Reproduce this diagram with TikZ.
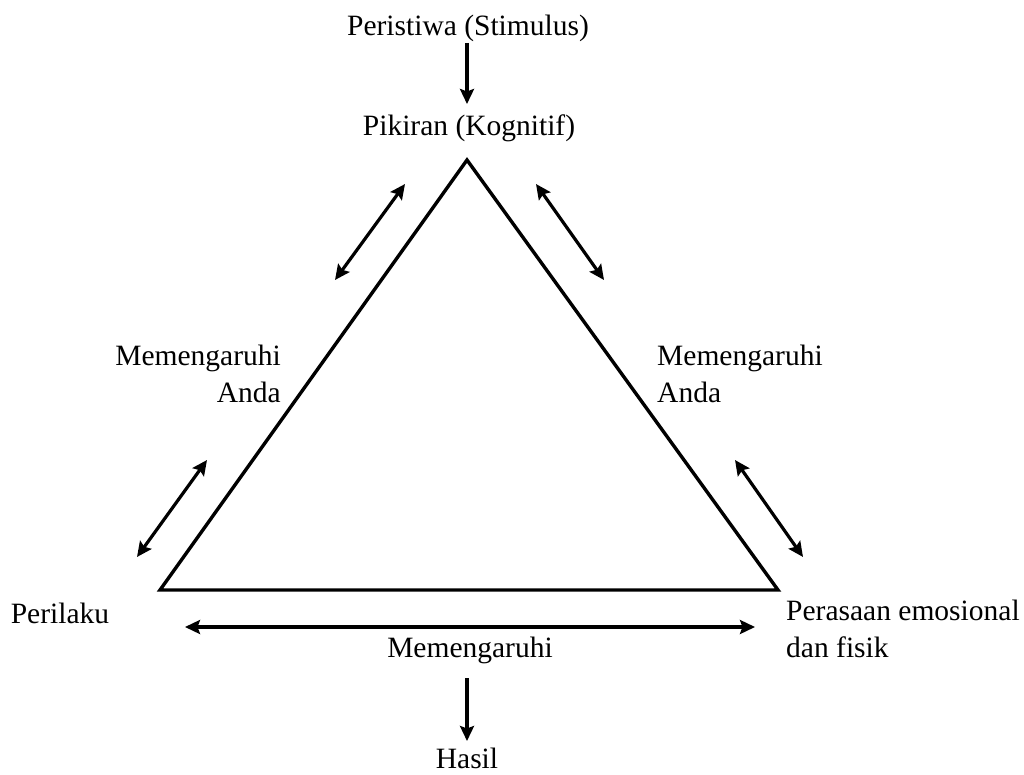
\documentclass[tikz,border=0pt]{standalone}
\usepackage{fontspec}
\setmainfont{Liberation Serif}
\usetikzlibrary{arrows.meta}
\begin{document}
\begin{tikzpicture}[x=1pt,y=-1pt,
  lbl/.style={inner sep=0pt,font=\fontsize{29.5}{37}\selectfont},
  tri/.style={line width=3.4pt,line join=miter},
  tip/.style={},
  arr/.style={line width=3.2pt,{Stealth[length=15pt,width=14pt,inset=2.5pt]}-{Stealth[length=15pt,width=14pt,inset=2.5pt]}},
  sarr/.style={line width=3.2pt,-{Stealth[length=15pt,width=14pt,inset=2.5pt]}}]
\useasboundingbox (0,0) rectangle (1024,775);
% triangle
\coordinate (A) at (467,160);
\coordinate (B) at (160,590);
\coordinate (C) at (778,590);
\draw[tri] (A) -- (B) -- (C) -- cycle;
% labels
\node[lbl] (stim) at (468,28) {Peristiwa (Stimulus)};
\node[lbl] (pik) at (469,128) {Pikiran (Kognitif)};
\node[lbl,align=right,anchor=east] (ml) at (281,374) {Memengaruhi\\Anda};
\node[lbl,align=left,anchor=west] (mr) at (657,374) {Memengaruhi\\Anda};
\node[lbl] (per) at (60,613) {Perilaku};
\node[lbl,align=left,anchor=west] (pe) at (786,629) {Perasaan emosional\\dan fisik};
\node[lbl] (mb) at (470,650) {Memengaruhi};
\node[lbl] (has) at (467,758) {Hasil};
% arrows
\coordinate (s1) at (467,43); \coordinate (s2) at (467,104);
\draw[sarr] (s1) -- (s2);
\coordinate (l1a) at (335,280); \coordinate (l1b) at (405,184);
\draw[arr] (l1a) -- (l1b);
\coordinate (r1a) at (536,184); \coordinate (r1b) at (604,280);
\draw[arr] (r1a) -- (r1b);
\coordinate (l2a) at (137,557); \coordinate (l2b) at (207,460);
\draw[arr] (l2a) -- (l2b);
\coordinate (r2a) at (735,460); \coordinate (r2b) at (803,557);
\draw[arr] (r2a) -- (r2b);
\coordinate (ha) at (185,627); \coordinate (hb) at (755,627);
\draw[arr] (ha) -- (hb);
\coordinate (va) at (467,678); \coordinate (vb) at (467,741);
\draw[sarr] (va) -- (vb);
\end{tikzpicture}
\end{document}
